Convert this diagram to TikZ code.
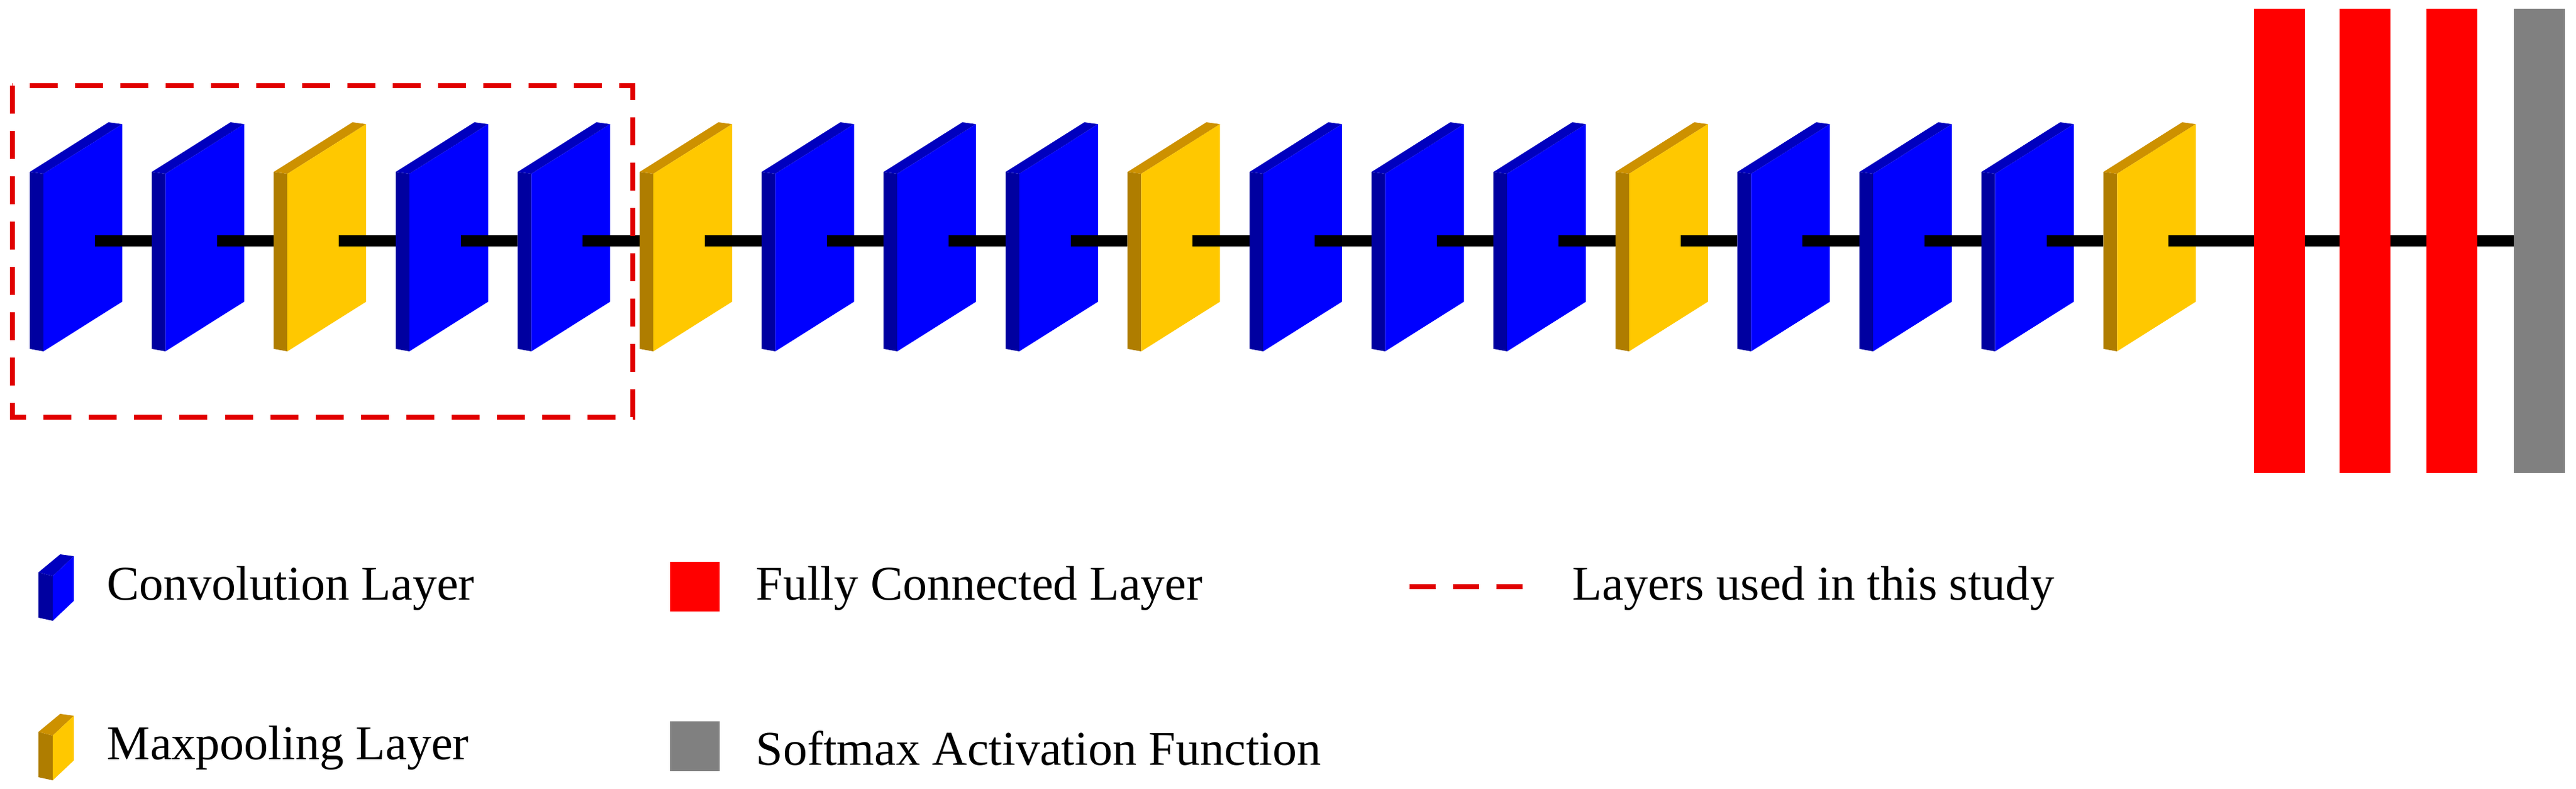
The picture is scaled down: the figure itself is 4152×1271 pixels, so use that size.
\documentclass[tikz,border=0pt]{standalone}
\usepackage{fontspec}
\setmainfont{Liberation Serif}
\definecolor{cblue}{RGB}{0,0,255}
\definecolor{cblueD}{RGB}{0,0,160}
\definecolor{cblueT}{RGB}{0,0,190}
\definecolor{cyel}{RGB}{255,200,0}
\definecolor{cyelD}{RGB}{175,125,0}
\definecolor{cyelT}{RGB}{205,145,0}
\definecolor{cred}{RGB}{255,0,0}
\definecolor{cgrey}{RGB}{128,128,128}
\definecolor{dred}{RGB}{225,0,0}
\newcommand{\layerblk}[3]{% name, x0, color prefix
  \fill[#3D] (#2,277) -- (#2+22,280) -- (#2+22,566) -- (#2,562) -- cycle;
  \fill[#3T] (#2,277) -- (#2+127,197) -- (#2+149,200) -- (#2+22,280) -- cycle;
  \fill[#3] (#2+22,280) -- (#2+149,200) -- (#2+149,486) -- (#2+22,566) -- cycle;
  \coordinate (#1) at (#2,388);
  \coordinate (#1o) at (#2+105,388);
}
\newcommand{\iconblk}[2]{% y offset, color prefix
  \fill[#2D] (62,922+#1) -- (85,928+#1) -- (85,1000+#1) -- (62,995+#1) -- cycle;
  \fill[#2T] (62,922+#1) -- (97,893+#1) -- (119,896+#1) -- (85,928+#1) -- cycle;
  \fill[#2] (85,928+#1) -- (119,896+#1) -- (119,968+#1) -- (85,1000+#1) -- cycle;
}
\tikzset{link/.style={line width=5.1pt,black},
  lbl/.style={anchor=west,font=\fontsize{22.2}{26}\selectfont,inner sep=0pt},
  bar/.style={fill=#1,draw=none,inner sep=0pt,minimum width=0.82cm,minimum height=7.48cm},
  sq/.style={fill=#1,draw=none,inner sep=0pt,minimum width=0.8cm,minimum height=0.8cm},
  studybox/.style={draw=dred,line width=2.3pt,dash pattern=on 0.45cm off 0.28cm}}
\begin{document}
\begin{tikzpicture}[x=0.01cm,y=-0.01cm]
\useasboundingbox (0,0) rectangle (4152,1271);
\def\sp{196.6}
\coordinate (lend) at (4093,388);
\foreach \i/\c in {0/b,1/b,2/y,3/b,4/b,5/y,6/b,7/b,8/b,9/y,10/b,11/b,12/b,13/y,14/b,15/b,16/b,17/y}{
  \pgfmathsetmacro{\xx}{48+\i*\sp}
  \if\c b\relax \layerblk{L\i}{\xx}{cblue}\else \layerblk{L\i}{\xx}{cyel}\fi
  \ifnum\i<17
    \pgfmathsetmacro{\xn}{48+(\i+1)*\sp}
    \coordinate (N\i) at (\xn,388);
    \draw[link] (L\i o) -- (N\i);
  \fi
}
\draw[link] (L17o) -- (lend);
\node[bar=cred] (fc1) at (3674,388) {};
\node[bar=cred] (fc2) at (3812,388) {};
\node[bar=cred] (fc3) at (3952,388) {};
\node[bar=cgrey] (sm) at (4093,388) {};
% study box
\draw[studybox] (20,138) rectangle (1020,672);
% legend
\iconblk{0}{cblue}
\iconblk{257}{cyel}
\node[lbl] (t1) at (172,948) {Convolution Layer};
\node[lbl] (t2) at (172,1205) {Maxpooling Layer};
\node[sq=cred] (k1) at (1120,945) {};
\node[sq=cgrey] (k2) at (1120,1202) {};
\node[lbl] (t3) at (1218,948) {Fully Connected Layer};
\node[lbl] (t4) at (1218,1205) {Softmax Activation Function};
\coordinate (d1) at (2272,945);
\coordinate (d2) at (2476,945);
\draw[dred,line width=2.3pt,dash pattern=on 0.42cm off 0.28cm] (d1) -- (d2);
\node[lbl] (t5) at (2534,948) {Layers used in this study};
\end{tikzpicture}
\end{document}
